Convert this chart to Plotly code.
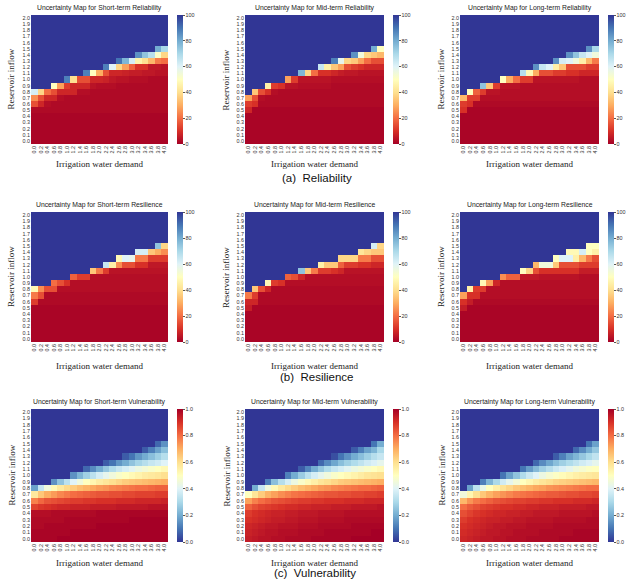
import plotly.graph_objects as go

W, H = 643, 587

demand = [0.0, 0.2, 0.4, 0.6, 0.8, 1.0, 1.2, 1.4, 1.6, 1.8, 2.0, 2.2, 2.4, 2.6, 2.8, 3.0, 3.2, 3.4, 3.6, 3.8, 4.0]
inflow = [2.0, 1.9, 1.8, 1.7, 1.6, 1.5, 1.4, 1.3, 1.2, 1.1, 1.0, 0.9, 0.8, 0.7, 0.6, 0.5, 0.4, 0.3, 0.2, 0.1, 0.0]
demand_labels = ["0.0", "0.2", "0.4", "0.6", "0.8", "1.0", "1.2", "1.4", "1.6", "1.8", "2.0", "2.2", "2.4", "2.6", "2.8", "3.0", "3.2", "3.4", "3.6", "3.8", "4.0"]
inflow_labels = ["2.0", "1.9", "1.8", "1.7", "1.6", "1.5", "1.4", "1.3", "1.2", "1.1", "1.0", "0.9", "0.8", "0.7", "0.6", "0.5", "0.4", "0.3", "0.2", "0.1", "0.0"]

# rows ordered from inflow 2.0 (top) down to 0.0 (bottom)
rel_short = [
 [100,100,100,100,100,100,100,100,100,100,100,100,100,100,100,100,100,100,100,100,100],
 [100,100,100,100,100,100,100,100,100,100,100,100,100,100,100,100,100,100,100,100,100],
 [100,100,100,100,100,100,100,100,100,100,100,100,100,100,100,100,100,100,100,100,100],
 [100,100,100,100,100,100,100,100,100,100,100,100,100,100,100,100,100,100,100,100,100],
 [100,100,100,100,100,100,100,100,100,100,100,100,100,100,100,100,100,100,100,100,100],
 [100,100,100,100,100,100,100,100,100,100,100,100,100,100,100,100,100,100,100,80,70],
 [100,100,100,100,100,100,100,100,100,100,100,100,100,100,100,100,85,75,68,52,38],
 [100,100,100,100,100,100,100,100,100,100,100,100,100,90,78,62,46,40,32,22,20],
 [100,100,100,100,100,100,100,100,100,100,100,88,60,38,28,18,10,10,5,5,4],
 [100,100,100,100,100,100,100,100,88,50,30,15,8,8,7,6,6,5,5,4,4],
 [100,100,100,100,100,88,40,15,15,8,8,7,5,4,4,3,3,3,2,2,2],
 [100,100,100,50,28,12,8,8,8,4,3,3,3,2,2,2,2,2,2,2,2],
 [62,38,20,15,8,8,8,3,3,2,2,2,2,2,2,2,2,2,2,2,2],
 [25,15,8,8,3,2,2,2,2,2,2,2,2,2,2,2,2,2,2,2,2],
 [15,8,3,2,2,2,2,2,2,2,2,2,2,2,2,2,2,2,2,2,2],
 [2,2,2,2,2,2,2,2,2,2,2,2,2,2,2,2,2,2,2,2,2],
 [1,1,1,1,1,1,1,1,1,1,1,1,1,1,1,1,1,1,1,1,1],
 [1,1,1,1,1,1,1,1,1,1,1,1,1,1,1,1,1,1,1,1,1],
 [1,1,1,1,1,1,1,1,1,1,1,1,1,1,1,1,1,1,1,1,1],
 [1,1,1,1,1,1,1,1,1,1,1,1,1,1,1,1,1,1,1,1,1],
 [1,1,1,1,1,1,1,1,1,1,1,1,1,1,1,1,1,1,1,1,1],
]

rel_mid = [
 [100,100,100,100,100,100,100,100,100,100,100,100,100,100,100,100,100,100,100,100,100],
 [100,100,100,100,100,100,100,100,100,100,100,100,100,100,100,100,100,100,100,100,100],
 [100,100,100,100,100,100,100,100,100,100,100,100,100,100,100,100,100,100,100,100,100],
 [100,100,100,100,100,100,100,100,100,100,100,100,100,100,100,100,100,100,100,100,100],
 [100,100,100,100,100,100,100,100,100,100,100,100,100,100,100,100,100,100,100,100,100],
 [100,100,100,100,100,100,100,100,100,100,100,100,100,100,100,100,100,100,100,80,50],
 [100,100,100,100,100,100,100,100,100,100,100,100,100,100,100,100,85,55,38,35,32],
 [100,100,100,100,100,100,100,100,100,100,100,100,100,88,58,38,35,28,20,15,15],
 [100,100,100,100,100,100,100,100,100,100,100,65,45,35,28,15,12,10,8,8,8],
 [100,100,100,100,100,100,100,100,78,38,20,10,10,8,6,5,5,4,4,4,4],
 [100,100,100,100,100,100,28,12,4,4,4,4,4,3,3,3,3,3,3,3,3],
 [100,100,100,45,12,10,4,4,3,3,3,3,3,2,2,2,2,2,2,2,2],
 [100,35,15,10,3,2,2,2,2,2,2,2,2,2,2,2,2,2,2,2,2],
 [28,15,3,2,2,2,2,2,2,2,2,2,2,2,2,2,2,2,2,2,2],
 [12,10,2,2,2,2,2,2,2,2,2,2,2,2,2,2,2,2,2,2,2],
 [8,1,1,1,1,1,1,1,1,1,1,1,1,1,1,1,1,1,1,1,1],
 [1,1,1,1,1,1,1,1,1,1,1,1,1,1,1,1,1,1,1,1,1],
 [1,1,1,1,1,1,1,1,1,1,1,1,1,1,1,1,1,1,1,1,1],
 [1,1,1,1,1,1,1,1,1,1,1,1,1,1,1,1,1,1,1,1,1],
 [1,1,1,1,1,1,1,1,1,1,1,1,1,1,1,1,1,1,1,1,1],
 [1,1,1,1,1,1,1,1,1,1,1,1,1,1,1,1,1,1,1,1,1],
]

rel_long = [
 [100,100,100,100,100,100,100,100,100,100,100,100,100,100,100,100,100,100,100,100,100],
 [100,100,100,100,100,100,100,100,100,100,100,100,100,100,100,100,100,100,100,100,100],
 [100,100,100,100,100,100,100,100,100,100,100,100,100,100,100,100,100,100,100,100,100],
 [100,100,100,100,100,100,100,100,100,100,100,100,100,100,100,100,100,100,100,100,100],
 [100,100,100,100,100,100,100,100,100,100,100,100,100,100,100,100,100,100,100,100,100],
 [100,100,100,100,100,100,100,100,100,100,100,100,100,100,100,100,100,100,100,85,70],
 [100,100,100,100,100,100,100,100,100,100,100,100,100,100,100,100,85,75,65,60,55],
 [100,100,100,100,100,100,100,100,100,100,100,100,100,100,85,62,60,55,45,32,22],
 [100,100,100,100,100,100,100,100,100,100,100,85,65,60,45,35,15,15,15,12,12],
 [100,100,100,100,100,100,100,100,100,68,48,30,15,15,12,12,10,10,8,8,8],
 [100,100,100,100,100,100,50,30,20,12,12,4,4,4,4,4,4,4,3,3,3],
 [100,100,100,75,35,12,4,4,4,3,3,3,3,3,3,3,3,3,3,3,3],
 [100,50,18,12,4,4,3,3,3,3,3,3,3,3,3,3,3,3,3,3,3],
 [32,12,12,3,3,3,3,3,3,3,3,3,3,3,3,3,3,3,3,3,3],
 [12,10,2,2,2,2,2,2,2,2,2,2,2,2,2,2,2,2,2,2,2],
 [10,1,1,1,1,1,1,1,1,1,1,1,1,1,1,1,1,1,1,1,1],
 [1,1,1,1,1,1,1,1,1,1,1,1,1,1,1,1,1,1,1,1,1],
 [1,1,1,1,1,1,1,1,1,1,1,1,1,1,1,1,1,1,1,1,1],
 [1,1,1,1,1,1,1,1,1,1,1,1,1,1,1,1,1,1,1,1,1],
 [1,1,1,1,1,1,1,1,1,1,1,1,1,1,1,1,1,1,1,1,1],
 [1,1,1,1,1,1,1,1,1,1,1,1,1,1,1,1,1,1,1,1,1],
]

res_short = [
 [100,100,100,100,100,100,100,100,100,100,100,100,100,100,100,100,100,100,100,100,100],
 [100,100,100,100,100,100,100,100,100,100,100,100,100,100,100,100,100,100,100,100,100],
 [100,100,100,100,100,100,100,100,100,100,100,100,100,100,100,100,100,100,100,100,100],
 [100,100,100,100,100,100,100,100,100,100,100,100,100,100,100,100,100,100,100,100,100],
 [100,100,100,100,100,100,100,100,100,100,100,100,100,100,100,100,100,100,100,100,100],
 [100,100,100,100,100,100,100,100,100,100,100,100,100,100,100,100,100,100,100,75,38],
 [100,100,100,100,100,100,100,100,100,100,100,100,100,100,100,100,62,62,35,30,25],
 [100,100,100,100,100,100,100,100,100,100,100,100,100,48,60,58,22,22,12,12,12],
 [100,100,100,100,100,100,100,100,100,100,100,65,45,25,15,15,10,10,5,5,5],
 [100,100,100,100,100,100,100,100,100,35,22,12,4,4,4,4,4,4,4,4,4],
 [100,100,100,100,100,100,18,12,12,3,3,3,3,3,3,3,3,3,3,3,3],
 [100,100,100,20,15,10,3,3,3,3,3,3,3,3,3,3,3,3,3,3,3],
 [48,25,15,15,3,3,3,3,3,3,3,3,3,3,3,3,3,3,3,3,3],
 [22,15,2,2,2,2,2,2,2,2,2,2,2,2,2,2,2,2,2,2,2],
 [12,2,2,2,2,2,2,2,2,2,2,2,2,2,2,2,2,2,2,2,2],
 [1,1,1,1,1,1,1,1,1,1,1,1,1,1,1,1,1,1,1,1,1],
 [1,1,1,1,1,1,1,1,1,1,1,1,1,1,1,1,1,1,1,1,1],
 [1,1,1,1,1,1,1,1,1,1,1,1,1,1,1,1,1,1,1,1,1],
 [1,1,1,1,1,1,1,1,1,1,1,1,1,1,1,1,1,1,1,1,1],
 [1,1,1,1,1,1,1,1,1,1,1,1,1,1,1,1,1,1,1,1,1],
 [1,1,1,1,1,1,1,1,1,1,1,1,1,1,1,1,1,1,1,1,1],
]

res_mid = [
 [100,100,100,100,100,100,100,100,100,100,100,100,100,100,100,100,100,100,100,100,100],
 [100,100,100,100,100,100,100,100,100,100,100,100,100,100,100,100,100,100,100,100,100],
 [100,100,100,100,100,100,100,100,100,100,100,100,100,100,100,100,100,100,100,100,100],
 [100,100,100,100,100,100,100,100,100,100,100,100,100,100,100,100,100,100,100,100,100],
 [100,100,100,100,100,100,100,100,100,100,100,100,100,100,100,100,100,100,100,100,100],
 [100,100,100,100,100,100,100,100,100,100,100,100,100,100,100,100,100,100,100,62,38],
 [100,100,100,100,100,100,100,100,100,100,100,100,100,100,100,100,100,42,38,35,35],
 [100,100,100,100,100,100,100,100,100,100,100,100,100,100,38,38,38,22,22,15,15],
 [100,100,100,100,100,100,100,100,100,100,100,45,35,35,18,12,12,10,10,8,8],
 [100,100,100,100,100,100,100,100,75,35,22,12,12,10,8,4,4,4,4,4,4],
 [100,100,100,100,100,100,18,15,8,3,3,3,3,3,3,3,3,3,3,3,3],
 [100,100,100,48,12,10,3,3,3,3,3,3,3,3,3,3,3,3,3,3,3],
 [100,35,15,8,2,2,2,2,2,2,2,2,2,2,2,2,2,2,2,2,2],
 [22,12,2,2,2,2,2,2,2,2,2,2,2,2,2,2,2,2,2,2,2],
 [8,8,2,2,2,2,2,2,2,2,2,2,2,2,2,2,2,2,2,2,2],
 [6,1,1,1,1,1,1,1,1,1,1,1,1,1,1,1,1,1,1,1,1],
 [1,1,1,1,1,1,1,1,1,1,1,1,1,1,1,1,1,1,1,1,1],
 [1,1,1,1,1,1,1,1,1,1,1,1,1,1,1,1,1,1,1,1,1],
 [1,1,1,1,1,1,1,1,1,1,1,1,1,1,1,1,1,1,1,1,1],
 [1,1,1,1,1,1,1,1,1,1,1,1,1,1,1,1,1,1,1,1,1],
 [1,1,1,1,1,1,1,1,1,1,1,1,1,1,1,1,1,1,1,1,1],
]

res_long = [
 [100,100,100,100,100,100,100,100,100,100,100,100,100,100,100,100,100,100,100,100,100],
 [100,100,100,100,100,100,100,100,100,100,100,100,100,100,100,100,100,100,100,100,100],
 [100,100,100,100,100,100,100,100,100,100,100,100,100,100,100,100,100,100,100,100,100],
 [100,100,100,100,100,100,100,100,100,100,100,100,100,100,100,100,100,100,100,100,100],
 [100,100,100,100,100,100,100,100,100,100,100,100,100,100,100,100,100,100,100,100,100],
 [100,100,100,100,100,100,100,100,100,100,100,100,100,100,100,100,100,100,100,50,50],
 [100,100,100,100,100,100,100,100,100,100,100,100,100,100,100,100,48,48,62,50,45],
 [100,100,100,100,100,100,100,100,100,100,100,100,100,100,50,60,60,45,32,22,15],
 [100,100,100,100,100,100,100,100,100,100,100,32,55,55,35,15,15,15,12,12,12],
 [100,100,100,100,100,100,100,100,100,50,38,15,10,10,10,10,10,10,6,6,6],
 [100,100,100,100,100,100,25,18,18,5,5,5,4,4,4,4,4,4,3,3,3],
 [100,100,100,48,28,8,3,3,3,3,3,3,3,3,3,3,3,3,3,3,3],
 [100,45,12,12,3,3,3,3,3,3,3,3,3,3,3,3,3,3,3,3,3],
 [28,10,10,3,3,3,3,3,3,3,3,3,3,3,3,3,3,3,3,3,3],
 [10,6,2,2,2,2,2,2,2,2,2,2,2,2,2,2,2,2,2,2,2],
 [6,1,1,1,1,1,1,1,1,1,1,1,1,1,1,1,1,1,1,1,1],
 [1,1,1,1,1,1,1,1,1,1,1,1,1,1,1,1,1,1,1,1,1],
 [1,1,1,1,1,1,1,1,1,1,1,1,1,1,1,1,1,1,1,1,1],
 [1,1,1,1,1,1,1,1,1,1,1,1,1,1,1,1,1,1,1,1,1],
 [1,1,1,1,1,1,1,1,1,1,1,1,1,1,1,1,1,1,1,1,1],
 [1,1,1,1,1,1,1,1,1,1,1,1,1,1,1,1,1,1,1,1,1],
]

vul_short = [
 [0,0,0,0,0,0,0,0,0,0,0,0,0,0,0,0,0,0,0,0,0],
 [0,0,0,0,0,0,0,0,0,0,0,0,0,0,0,0,0,0,0,0,0],
 [0,0,0,0,0,0,0,0,0,0,0,0,0,0,0,0,0,0,0,0,0],
 [0,0,0,0,0,0,0,0,0,0,0,0,0,0,0,0,0,0,0,0,0],
 [0,0,0,0,0,0,0,0,0,0,0,0,0,0,0,0,0,0,0,0,0],
 [0,0,0,0,0,0,0,0,0,0,0,0,0,0,0,0,0,0,0,0.08,0.15],
 [0,0,0,0,0,0,0,0,0,0,0,0,0,0,0,0,0,0.06,0.12,0.18,0.24],
 [0,0,0,0,0,0,0,0,0,0,0,0,0,0,0.06,0.1,0.16,0.2,0.24,0.28,0.32],
 [0,0,0,0,0,0,0,0,0,0,0,0.06,0.1,0.16,0.2,0.25,0.29,0.32,0.35,0.37,0.4],
 [0,0,0,0,0,0,0,0,0.08,0.14,0.2,0.26,0.31,0.35,0.38,0.41,0.44,0.46,0.48,0.5,0.52],
 [0,0,0,0,0,0,0.15,0.22,0.28,0.33,0.38,0.42,0.45,0.48,0.5,0.52,0.54,0.56,0.57,0.58,0.6],
 [0,0,0,0.15,0.25,0.33,0.4,0.45,0.5,0.53,0.56,0.58,0.6,0.62,0.64,0.65,0.66,0.67,0.68,0.69,0.7],
 [0.18,0.35,0.45,0.52,0.57,0.61,0.64,0.67,0.69,0.71,0.73,0.74,0.76,0.77,0.78,0.79,0.8,0.8,0.81,0.82,0.82],
 [0.57,0.65,0.7,0.73,0.76,0.78,0.8,0.81,0.82,0.83,0.84,0.84,0.85,0.85,0.86,0.86,0.87,0.87,0.87,0.88,0.88],
 [0.77,0.81,0.84,0.85,0.86,0.87,0.88,0.88,0.89,0.89,0.9,0.9,0.9,0.91,0.91,0.91,0.92,0.92,0.92,0.92,0.93],
 [0.87,0.89,0.9,0.91,0.92,0.92,0.93,0.93,0.93,0.94,0.94,0.94,0.94,0.95,0.95,0.95,0.95,0.95,0.96,0.96,0.96],
 [0.97,0.97,0.97,0.98,0.98,0.98,0.98,0.98,0.98,0.98,0.99,0.99,0.99,0.99,0.99,0.99,0.99,0.99,0.99,0.99,0.99],
 [0.98,0.98,0.98,0.98,0.98,0.99,0.99,0.99,0.99,0.99,0.99,0.99,0.99,0.99,0.99,1.0,1.0,1.0,1.0,1.0,1.0],
 [0.98,0.98,0.99,0.99,0.99,0.99,0.99,0.99,0.99,0.99,1.0,1.0,1.0,1.0,1.0,1.0,1.0,1.0,1.0,1.0,1.0],
 [0.99,0.99,0.99,0.99,0.99,0.99,1.0,1.0,1.0,1.0,1.0,1.0,1.0,1.0,1.0,1.0,1.0,1.0,1.0,1.0,1.0],
 [0.99,0.99,0.99,0.99,1.0,1.0,1.0,1.0,1.0,1.0,1.0,1.0,1.0,1.0,1.0,1.0,1.0,1.0,1.0,1.0,1.0],
]

vul_mid = [
 [0,0,0,0,0,0,0,0,0,0,0,0,0,0,0,0,0,0,0,0,0],
 [0,0,0,0,0,0,0,0,0,0,0,0,0,0,0,0,0,0,0,0,0],
 [0,0,0,0,0,0,0,0,0,0,0,0,0,0,0,0,0,0,0,0,0],
 [0,0,0,0,0,0,0,0,0,0,0,0,0,0,0,0,0,0,0,0,0],
 [0,0,0,0,0,0,0,0,0,0,0,0,0,0,0,0,0,0,0,0,0],
 [0,0,0,0,0,0,0,0,0,0,0,0,0,0,0,0,0,0,0,0.1,0.2],
 [0,0,0,0,0,0,0,0,0,0,0,0,0,0,0,0,0.06,0.12,0.18,0.22,0.3],
 [0,0,0,0,0,0,0,0,0,0,0,0,0,0.04,0.1,0.15,0.2,0.24,0.28,0.32,0.35],
 [0,0,0,0,0,0,0,0,0,0,0,0.08,0.14,0.19,0.24,0.28,0.31,0.34,0.37,0.39,0.42],
 [0,0,0,0,0,0,0,0,0.06,0.13,0.2,0.26,0.31,0.35,0.38,0.41,0.44,0.46,0.48,0.5,0.52],
 [0,0,0,0,0,0,0.12,0.2,0.27,0.33,0.38,0.42,0.45,0.48,0.5,0.52,0.54,0.56,0.58,0.59,0.6],
 [0,0,0,0.12,0.24,0.32,0.38,0.44,0.48,0.52,0.55,0.58,0.6,0.62,0.64,0.65,0.66,0.67,0.68,0.69,0.7],
 [0,0.2,0.35,0.45,0.52,0.57,0.61,0.64,0.67,0.69,0.71,0.73,0.74,0.76,0.77,0.78,0.79,0.8,0.8,0.81,0.82],
 [0.5,0.58,0.64,0.69,0.72,0.75,0.77,0.79,0.8,0.81,0.82,0.83,0.84,0.84,0.85,0.85,0.86,0.86,0.87,0.87,0.88],
 [0.72,0.77,0.8,0.82,0.84,0.85,0.86,0.87,0.88,0.88,0.89,0.89,0.9,0.9,0.9,0.91,0.91,0.91,0.92,0.92,0.92],
 [0.82,0.85,0.87,0.88,0.89,0.9,0.91,0.91,0.92,0.92,0.93,0.93,0.93,0.94,0.94,0.94,0.95,0.95,0.95,0.95,0.96],
 [0.88,0.9,0.91,0.92,0.93,0.93,0.94,0.94,0.95,0.95,0.95,0.96,0.96,0.96,0.96,0.97,0.97,0.97,0.97,0.97,0.97],
 [0.9,0.91,0.92,0.93,0.94,0.94,0.95,0.95,0.96,0.96,0.96,0.97,0.97,0.97,0.97,0.98,0.98,0.98,0.98,0.98,0.98],
 [0.92,0.93,0.94,0.95,0.95,0.96,0.96,0.96,0.97,0.97,0.97,0.98,0.98,0.98,0.98,0.98,0.99,0.99,0.99,0.99,0.99],
 [0.93,0.94,0.95,0.96,0.96,0.97,0.97,0.97,0.98,0.98,0.98,0.98,0.99,0.99,0.99,0.99,0.99,0.99,0.99,1.0,1.0],
 [0.94,0.95,0.96,0.96,0.97,0.97,0.98,0.98,0.98,0.98,0.99,0.99,0.99,0.99,0.99,0.99,1.0,1.0,1.0,1.0,1.0],
]

vul_long = [
 [0,0,0,0,0,0,0,0,0,0,0,0,0,0,0,0,0,0,0,0,0],
 [0,0,0,0,0,0,0,0,0,0,0,0,0,0,0,0,0,0,0,0,0],
 [0,0,0,0,0,0,0,0,0,0,0,0,0,0,0,0,0,0,0,0,0],
 [0,0,0,0,0,0,0,0,0,0,0,0,0,0,0,0,0,0,0,0,0],
 [0,0,0,0,0,0,0,0,0,0,0,0,0,0,0,0,0,0,0,0,0],
 [0,0,0,0,0,0,0,0,0,0,0,0,0,0,0,0,0,0,0,0.1,0.18],
 [0,0,0,0,0,0,0,0,0,0,0,0,0,0,0,0,0,0.08,0.14,0.2,0.26],
 [0,0,0,0,0,0,0,0,0,0,0,0,0,0,0.06,0.12,0.18,0.22,0.26,0.3,0.34],
 [0,0,0,0,0,0,0,0,0,0,0,0.08,0.14,0.19,0.24,0.28,0.31,0.34,0.37,0.39,0.42],
 [0,0,0,0,0,0,0,0,0,0.1,0.17,0.23,0.28,0.32,0.36,0.39,0.42,0.45,0.47,0.49,0.5],
 [0,0,0,0,0,0,0.1,0.18,0.25,0.31,0.36,0.4,0.44,0.47,0.49,0.51,0.53,0.55,0.56,0.57,0.58],
 [0,0,0,0.12,0.22,0.3,0.37,0.42,0.46,0.5,0.53,0.56,0.58,0.6,0.62,0.63,0.64,0.65,0.66,0.67,0.68],
 [0,0.18,0.33,0.43,0.5,0.55,0.59,0.62,0.65,0.67,0.69,0.71,0.72,0.74,0.75,0.76,0.77,0.78,0.79,0.8,0.8],
 [0.45,0.53,0.6,0.65,0.69,0.72,0.74,0.76,0.78,0.79,0.8,0.81,0.82,0.83,0.83,0.84,0.85,0.85,0.86,0.86,0.87],
 [0.68,0.74,0.78,0.8,0.82,0.84,0.85,0.86,0.87,0.87,0.88,0.88,0.89,0.89,0.9,0.9,0.9,0.91,0.91,0.91,0.92],
 [0.8,0.83,0.85,0.87,0.88,0.89,0.9,0.9,0.91,0.91,0.92,0.92,0.93,0.93,0.93,0.94,0.94,0.94,0.94,0.95,0.95],
 [0.85,0.87,0.89,0.9,0.91,0.92,0.92,0.93,0.93,0.94,0.94,0.95,0.95,0.95,0.95,0.96,0.96,0.96,0.96,0.96,0.97],
 [0.88,0.9,0.91,0.92,0.93,0.93,0.94,0.94,0.95,0.95,0.96,0.96,0.96,0.96,0.97,0.97,0.97,0.97,0.97,0.98,0.98],
 [0.9,0.91,0.92,0.93,0.94,0.95,0.95,0.96,0.96,0.96,0.97,0.97,0.97,0.97,0.98,0.98,0.98,0.98,0.98,0.98,0.98],
 [0.91,0.92,0.93,0.94,0.95,0.95,0.96,0.96,0.97,0.97,0.97,0.97,0.98,0.98,0.98,0.98,0.98,0.99,0.99,0.99,0.99],
 [0.92,0.93,0.94,0.95,0.95,0.96,0.96,0.97,0.97,0.97,0.98,0.98,0.98,0.98,0.98,0.99,0.99,0.99,0.99,0.99,0.99],
]

titles = [
    "Uncertainty Map for Short-term Reliability", "Uncertainty Map for Mid-term Reliability", "Uncertainty Map for Long-term Reliability",
    "Uncertainty Map for Short-term Resilience", "Uncertainty Map for Mid-term Resilience", "Uncertainty Map for Long-term Resilience",
    "Uncertainty Map for Short-term Vulnerability", "Uncertainty Map for Mid-term Vulnerability", "Uncertainty Map for Long-term Vulnerability",
]
captions = ["(a)  Reliability", "(b)  Resilience", "(c)  Vulnerability"]
matrices = [rel_short, rel_mid, rel_long, res_short, res_mid, res_long, vul_short, vul_mid, vul_long]
for m in matrices:
    assert len(m) == 21 and all(len(r) == 21 for r in m)

# matplotlib / ColorBrewer RdYlBu
rdylbu = ["#a50026", "#d73027", "#f46d43", "#fdae61", "#fee090", "#ffffbf",
          "#e0f3f8", "#abd9e9", "#74add1", "#4575b4", "#313695"]
cs_rel = [[i / 10, c] for i, c in enumerate(rdylbu)]
cs_vul = [[i / 10, c] for i, c in enumerate(reversed(rdylbu))]

# layout boxes in pixels
col_x = [(31, 168), (245, 384), (460, 599)]
row_y = [(15, 144), (212, 342), (409, 542)]
cbar_x = [177, 393, 608]
ytitle_x = [11, 226, 441]
xtitle_off = [20, 24, 21]
caption_pos = [(317, 178), (317, 377), (315, 573)]

def fx(px):
    return px / W

def fy(py):
    return 1 - py / H

fig = go.Figure()
annotations = []
layout_axes = {}
tickfont = dict(family="Liberation Sans, Arial, sans-serif", size=5.4, color="#333")

for i, z in enumerate(matrices):
    r, c = divmod(i, 3)
    x0, x1 = col_x[c]
    y0, y1 = row_y[r]
    k = "" if i == 0 else str(i + 1)
    vul = r == 2
    if vul:
        cs, zmin, zmax = cs_vul, 0, 1
        cbt = [0, 0.2, 0.4, 0.6, 0.8, 1.0]
        cbtt = ["0.0", "0.2", "0.4", "0.6", "0.8", "1.0"]
    else:
        cs, zmin, zmax = cs_rel, 0, 100
        cbt = [0, 20, 40, 60, 80, 100]
        cbtt = ["0", "20", "40", "60", "80", "100"]
    fig.add_trace(go.Heatmap(
        z=z, x=demand, y=inflow, xaxis="x" + k, yaxis="y" + k,
        colorscale=cs, zmin=zmin, zmax=zmax,
        colorbar=dict(x=fx(cbar_x[c]), xanchor="left", xpad=0, ypad=0,
                      y=fy((y0 + y1) / 2), yanchor="middle",
                      len=(y1 - y0) / H, lenmode="fraction",
                      thickness=6, thicknessmode="pixels", outlinewidth=0,
                      tickvals=cbt, ticktext=cbtt, ticks="outside", ticklen=2,
                      tickwidth=0.6, tickcolor="#555", tickfont=tickfont),
        hoverinfo="skip",
    ))
    layout_axes["xaxis" + k] = dict(domain=[fx(x0), fx(x1)], anchor="y" + k,
                                    tickvals=demand, ticktext=demand_labels, tickangle=-90,
                                    tickfont=tickfont, showgrid=False, zeroline=False,
                                    ticks="", showline=False)
    layout_axes["yaxis" + k] = dict(domain=[fy(y1), fy(y0)], anchor="x" + k,
                                    tickvals=inflow, ticktext=inflow_labels,
                                    tickfont=tickfont, showgrid=False, zeroline=False,
                                    ticks="", showline=False)
    annotations.append(dict(text=titles[i], x=fx((x0 + x1) / 2), y=fy(y0 - 1),
                            xref="paper", yref="paper", xanchor="center", yanchor="bottom",
                            showarrow=False,
                            font=dict(family="Liberation Sans, Arial, sans-serif", size=6.8, color="#222")))
    annotations.append(dict(text="Irrigation water demand", x=fx((x0 + x1) / 2), y=fy(y1 + xtitle_off[r]),
                            xref="paper", yref="paper", xanchor="center", yanchor="middle",
                            showarrow=False,
                            font=dict(family="Liberation Serif, Times New Roman, serif", size=9, color="#222")))
    annotations.append(dict(text="Reservoir inflow", x=fx(ytitle_x[c]), y=fy((y0 + y1) / 2),
                            xref="paper", yref="paper", xanchor="center", yanchor="middle",
                            textangle=-90, showarrow=False,
                            font=dict(family="Liberation Serif, Times New Roman, serif", size=9, color="#222")))

for j, cap in enumerate(captions):
    cx, cy = caption_pos[j]
    annotations.append(dict(text=cap, x=fx(cx), y=fy(cy), xref="paper", yref="paper",
                            xanchor="center", yanchor="middle", showarrow=False,
                            font=dict(family="Liberation Sans, Arial, sans-serif", size=11.5, color="#111")))

fig.update_layout(width=W, height=H, margin=dict(l=0, r=0, t=0, b=0),
                  paper_bgcolor="white", plot_bgcolor="white",
                  showlegend=False, annotations=annotations, **layout_axes)

fig.write_html("out.html")
